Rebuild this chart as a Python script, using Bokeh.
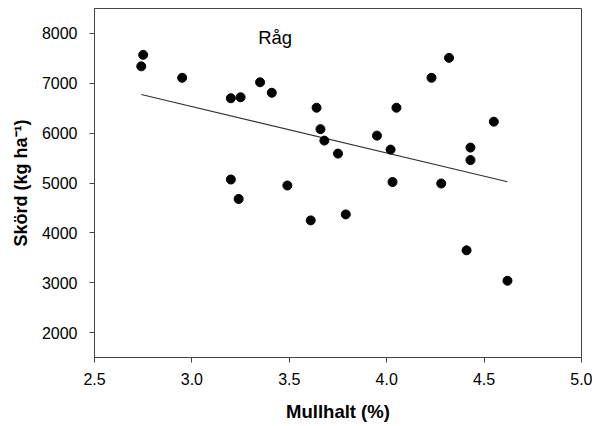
from bokeh.plotting import figure
from bokeh.models import FixedTicker, Range1d, Label
from bokeh.embed import file_html
from bokeh.resources import INLINE

mullhalt = [2.75, 2.74, 2.95, 3.20, 3.25, 3.35, 3.41, 3.20, 3.24, 3.49,
            3.64, 3.66, 3.68, 3.75, 3.95, 4.02, 4.05, 4.23, 4.32, 4.43,
            4.43, 4.03, 4.28, 3.61, 3.79, 4.55, 4.41, 4.62]
skord = [7570, 7340, 7110, 6700, 6720, 7020, 6810, 5070, 4680, 4950,
         6510, 6080, 5850, 5590, 5950, 5670, 6510, 7110, 7510, 5710,
         5460, 5020, 4990, 4250, 4370, 6230, 3650, 3040]
fit_x = [2.74, 4.62]
fit_y = [6775, 5025]
x_ticks = [2.5, 3.0, 3.5, 4.0, 4.5, 5.0]
y_ticks = [2000, 3000, 4000, 5000, 6000, 7000, 8000]
title_text = "Råg"

FONT = "Liberation Sans"

p = figure(width=592, height=424, output_backend="svg", toolbar_location=None,
           x_range=Range1d(2.5, 5.0), y_range=Range1d(1500, 8500),
           min_border_left=94, min_border_right=11, min_border_top=8,
           min_border_bottom=66)
p.grid.visible = False
p.background_fill_color = "white"
p.border_fill_color = "white"
p.outline_line_color = "#444444"
p.outline_line_width = 1

p.line(fit_x, fit_y, line_color="#333333", line_width=1.2)
p.scatter(mullhalt, skord, size=9, color="black")

p.add_layout(Label(x=3.34, y=7920, text=title_text, text_font=FONT,
                   text_font_size="18.5px", text_color="black",
                   text_baseline="alphabetic"))

for ax in (p.xaxis[0], p.yaxis[0]):
    ax.axis_line_color = "#444444"
    ax.major_tick_line_color = "#444444"
    ax.major_tick_out = 5
    ax.major_tick_in = 0
    ax.minor_tick_line_color = None
    ax.major_label_text_font = FONT
    ax.major_label_text_font_size = "16px"
    ax.major_label_text_color = "black"
    ax.axis_label_text_font = FONT
    ax.axis_label_text_font_style = "bold"
    ax.axis_label_text_color = "black"

p.xaxis.axis_label_text_font_size = "18.5px"
p.yaxis.axis_label_text_font_size = "18px"
p.xaxis.ticker = FixedTicker(ticks=x_ticks)
p.yaxis.ticker = FixedTicker(ticks=y_ticks)
p.xaxis.major_label_overrides = {v: f"{v:.1f}" for v in x_ticks}
p.xaxis.axis_label = "Mullhalt (%)"
p.yaxis.axis_label = "Skörd (kg ha⁻¹)"
p.xaxis.major_label_standoff = 10
p.yaxis.major_label_standoff = 12
p.xaxis.axis_label_standoff = 13
p.yaxis.axis_label_standoff = 8

open("out.html", "w").write(file_html(p, INLINE))
